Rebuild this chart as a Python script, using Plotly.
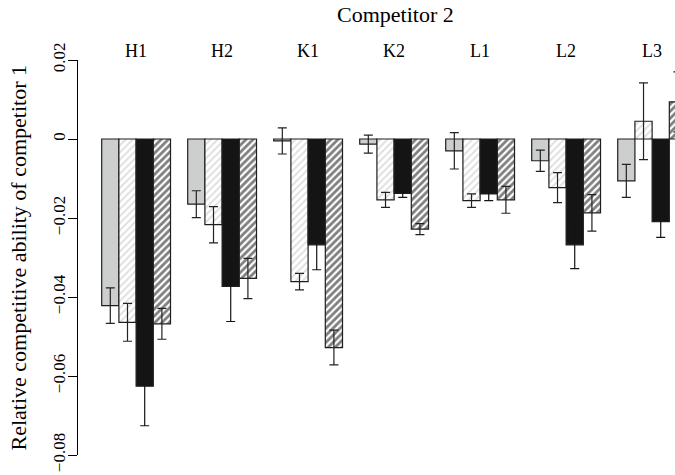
import plotly.graph_objects as go

groups = ["H1", "H2", "K1", "K2", "L1", "L2", "L3"]
ytick_vals = [-0.08, -0.06, -0.04, -0.02, 0.0, 0.02]
ytick_text = ["\u22120.08", "\u22120.06", "\u22120.04", "\u22120.02", "0", "0.02"]

grey = [-0.0422, -0.0165, -0.0005, -0.0013, -0.0030, -0.0055, -0.0106]
grey_se = [0.0045, 0.0034, 0.0033, 0.0023, 0.0046, 0.0027, 0.0042]
light = [-0.0464, -0.0217, -0.0361, -0.0154, -0.0156, -0.0123, 0.0045]
light_se = [0.0048, 0.0046, 0.0021, 0.0019, 0.0017, 0.0038, 0.0097]
black = [-0.0626, -0.0373, -0.0268, -0.0138, -0.0139, -0.0268, -0.0209]
black_se = [0.0100, 0.0089, 0.0063, 0.0010, 0.0017, 0.0060, 0.0040]
dense = [-0.0468, -0.0353, -0.0528, -0.0228, -0.0154, -0.0187, 0.0094]
dense_se = [0.0039, 0.0051, 0.0044, 0.0014, 0.0034, 0.0046, 0.0076]

FONT = "Liberation Serif, Times New Roman, serif"

series = [
    (grey, grey_se, dict(color="#cdcfce"), "#222222"),
    (light, light_se, dict(color="white", pattern=dict(shape="/", fgcolor="#bdbdbd", bgcolor="white", size=5, solidity=0.35)), "#222222"),
    (black, black_se, dict(color="#141414"), "#141414"),
    (dense, dense_se, dict(color="white", pattern=dict(shape="/", fgcolor="#000000", bgcolor="white", size=5, solidity=0.55)), "#222222"),
]

fig = go.Figure()
for j, (vals, se, marker, ecol) in enumerate(series):
    xs = [1.5 + 5 * g + j for g in range(len(groups))]
    marker = dict(marker)
    marker["line"] = dict(color="#1e1e1e", width=1.2)
    fig.add_trace(go.Bar(
        x=xs, y=vals, width=1.0, marker=marker,
        error_y=dict(type="data", array=se, visible=True, color=ecol, thickness=1.2, width=4.5),
        showlegend=False, hoverinfo="skip",
    ))

annotations = []
for g, name in enumerate(groups):
    annotations.append(dict(
        x=3 + 5 * g, xref="x", y=1.0228, yref="paper", text=name, showarrow=False,
        xanchor="center", yanchor="middle", font=dict(family=FONT, size=18, color="black"),
    ))
annotations.append(dict(
    x=(395 - 78) / 597, xref="paper", y=1.114, yref="paper", text="Competitor 2", showarrow=False,
    xanchor="center", yanchor="middle", font=dict(family=FONT, size=22, color="black"),
))
annotations.append(dict(
    x=(18 - 78) / 597, xref="paper", y=0.5, yref="paper",
    text="Relative competitive ability of competitor 1", showarrow=False, textangle=-90,
    xanchor="center", yanchor="middle", font=dict(family=FONT, size=22, color="black"),
))

fig.update_layout(
    width=675, height=475,
    margin=dict(l=78, r=0, t=60, b=20, autoexpand=False),
    paper_bgcolor="white", plot_bgcolor="white",
    barmode="overlay",
    annotations=annotations,
    xaxis=dict(range=[-0.378, 34.33], visible=False, fixedrange=True, automargin=False),
    yaxis=dict(
        range=[-0.08, 0.02], tickvals=ytick_vals, ticktext=ytick_text, automargin=False,
        tickangle=-90, ticks="outside", ticklen=9, tickcolor="black", tickwidth=1,
        showline=True, linecolor="black", linewidth=1, showgrid=False, zeroline=False,
        tickfont=dict(family=FONT, size=17, color="black"), ticklabelstandoff=-4,
        fixedrange=True,
    ),
)

fig.write_html(
    "out.html",
    config={"displayModeBar": False},
    post_script="document.body.style.margin='0';document.body.style.overflow='hidden';",
)
